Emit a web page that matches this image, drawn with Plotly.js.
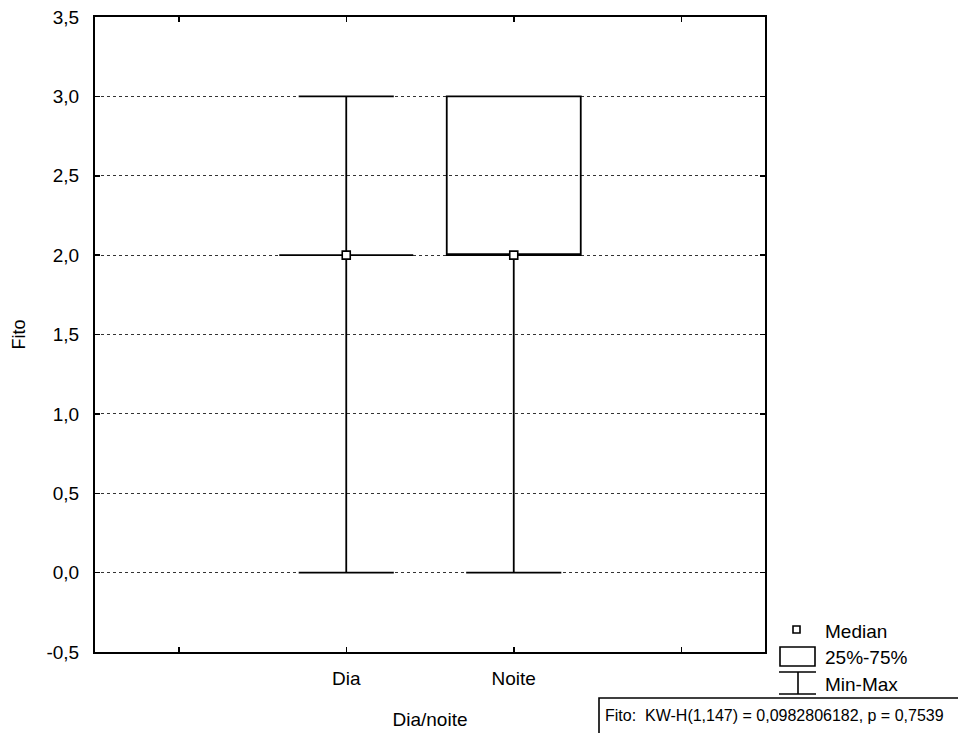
<!DOCTYPE html>
<html>
<head>
<meta charset="utf-8">
<script src="https://cdn.plot.ly/plotly-3.0.1.min.js"></script>
<style>html,body{margin:0;padding:0;background:#fff;}#chart{width:958px;height:733px;}</style>
</head>
<body>
<div id="chart"></div>
<script>
// ---- data ----
const categories = ['Dia', 'Noite'];
const positions = [0, 1];
const minVals = [0, 0];
const q1Vals = [2, 2];
const medianVals = [2, 2];
const q3Vals = [2, 3];
const maxVals = [3, 3];
const yTickVals = [-0.5, 0, 0.5, 1, 1.5, 2, 2.5, 3, 3.5];
const yTickLabels = ['-0,5', '0,0', '0,5', '1,0', '1,5', '2,0', '2,5', '3,0', '3,5'];
const legendLabels = ['Median', '25%-75%', 'Min-Max'];
const statsText = 'Fito:  KW-H(1,147) = 0,0982806182, p = 0,7539';

// ---- layout geometry ----
const W = 958, H = 733;
const M = {l: 95, r: 193, t: 17, b: 81};
const PW = W - M.l - M.r, PH = H - M.t - M.b;
const px = x => (x - M.l) / PW;
const py = y => (H - M.b - y) / PH;
const FONT = 'Liberation Sans, Arial, sans-serif';

const traces = [
  {
    type: 'box',
    x: positions,
    q1: q1Vals, median: medianVals, q3: q3Vals,
    lowerfence: minVals, upperfence: maxVals,
    width: 0.8, whiskerwidth: 0.71,
    boxpoints: false,
    line: {color: '#000', width: 1.8},
    fillcolor: 'rgba(0,0,0,0)',
    hoverinfo: 'skip',
    showlegend: false
  },
  {
    type: 'scatter', mode: 'markers',
    x: positions, y: medianVals,
    marker: {symbol: 'square', size: 8, color: '#fff', line: {color: '#000', width: 1.6}},
    showlegend: false, hoverinfo: 'skip'
  }
];

const LW = 1.6;
const shapes = [
  // legend median square
  {type: 'rect', xref: 'paper', yref: 'paper', x0: px(793), x1: px(800), y0: py(633), y1: py(626), line: {color: '#000', width: LW}, fillcolor: '#fff'},
  // legend box
  {type: 'rect', xref: 'paper', yref: 'paper', x0: px(780), x1: px(815), y0: py(666), y1: py(647), line: {color: '#000', width: LW}},
  // legend whisker
  {type: 'line', xref: 'paper', yref: 'paper', x0: px(779), x1: px(816), y0: py(672), y1: py(672), line: {color: '#000', width: LW}},
  {type: 'line', xref: 'paper', yref: 'paper', x0: px(798), x1: px(798), y0: py(672), y1: py(694), line: {color: '#000', width: LW}},
  {type: 'line', xref: 'paper', yref: 'paper', x0: px(779), x1: px(816), y0: py(694), y1: py(694), line: {color: '#000', width: LW}},
  // stats box
  {type: 'rect', xref: 'paper', yref: 'paper', x0: px(599), x1: px(962), y0: py(740), y1: py(698), line: {color: '#000', width: LW}}
];

const annotations = [
  {xref: 'paper', yref: 'paper', x: px(823), y: py(631), xanchor: 'left', yanchor: 'middle', text: legendLabels[0], showarrow: false, font: {family: FONT, size: 19, color: '#000'}},
  {xref: 'paper', yref: 'paper', x: px(823), y: py(657), xanchor: 'left', yanchor: 'middle', text: legendLabels[1], showarrow: false, font: {family: FONT, size: 19, color: '#000'}},
  {xref: 'paper', yref: 'paper', x: px(823), y: py(684), xanchor: 'left', yanchor: 'middle', text: legendLabels[2], showarrow: false, font: {family: FONT, size: 19, color: '#000'}},
  {xref: 'paper', yref: 'paper', x: px(603), y: py(715), xanchor: 'left', yanchor: 'middle', text: statsText, showarrow: false, font: {family: FONT, size: 16, color: '#000'}}
];

const layout = {
  width: W, height: H,
  margin: M,
  paper_bgcolor: '#fff', plot_bgcolor: '#fff',
  separators: ',.',
  font: {family: FONT, size: 18, color: '#000'},
  showlegend: false,
  xaxis: {
    range: [-1.5, 2.5],
    tickmode: 'array',
    tickvals: [-1].concat(positions, [2]),
    ticktext: [''].concat(categories, ['']),
    ticks: 'inside', ticklen: 5, tickwidth: 1.5, tickcolor: '#000',
    showline: true, linewidth: 2, linecolor: '#000', mirror: 'ticks',
    showgrid: false, zeroline: false,
    ticklabelstandoff: 8,
    tickfont: {family: FONT, size: 19},
    title: {text: 'Dia/noite', font: {family: FONT, size: 19}, standoff: 25}
  },
  yaxis: {
    range: [-0.5, 3.5],
    tickmode: 'array', tickvals: yTickVals, ticktext: yTickLabels,
    ticks: 'inside', ticklen: 5, tickwidth: 1.5, tickcolor: '#000',
    showline: true, linewidth: 2, linecolor: '#000', mirror: 'ticks',
    showgrid: true, gridcolor: '#333', gridwidth: 1, griddash: 'dot',
    zeroline: false,
    ticklabelstandoff: 10,
    tickfont: {family: FONT, size: 19},
    title: {text: 'Fito', font: {family: FONT, size: 18}, standoff: 16}
  },
  shapes: shapes,
  annotations: annotations
};

Plotly.newPlot('chart', traces, layout, {staticPlot: true, displayModeBar: false});
</script>
</body>
</html>
